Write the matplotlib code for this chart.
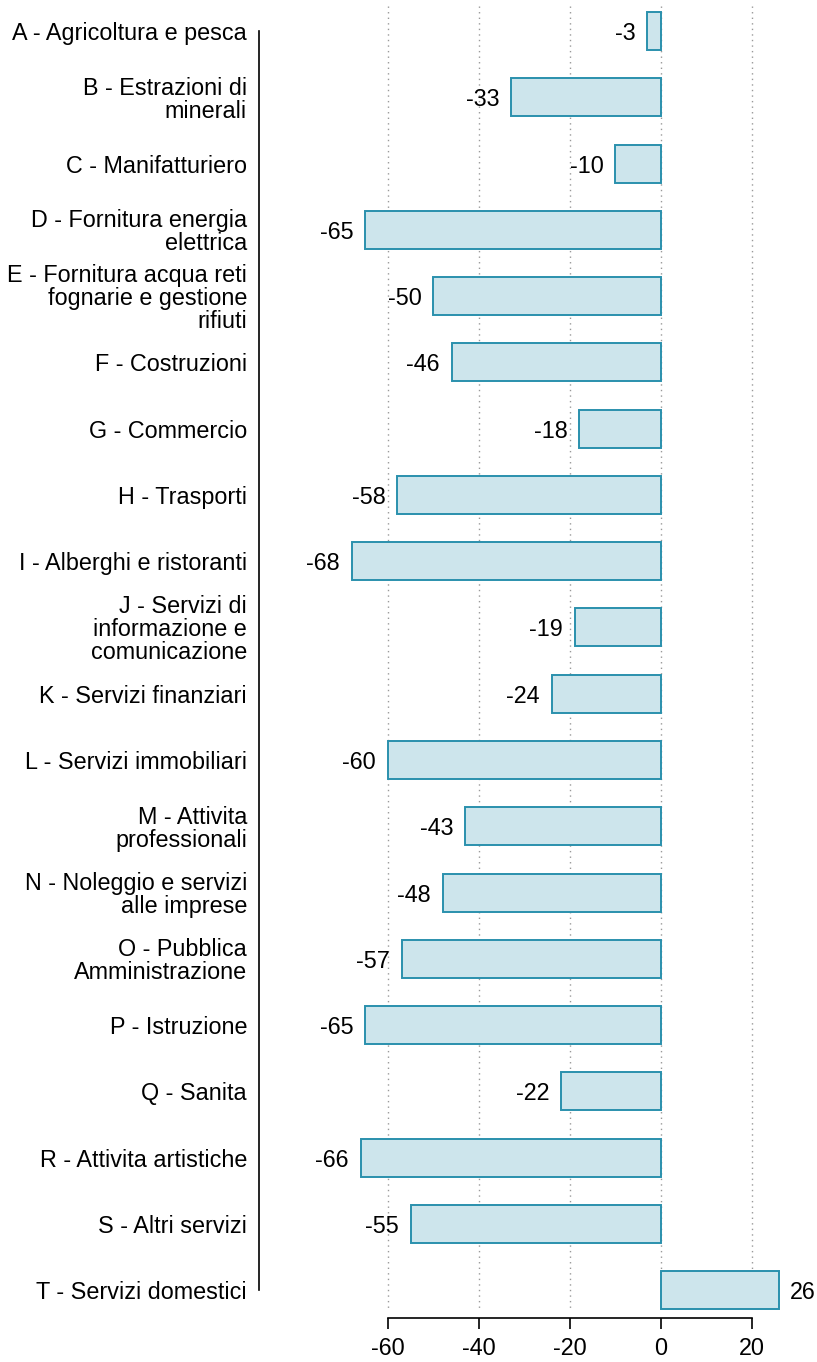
import matplotlib.pyplot as plt

plt.rcParams['font.family'] = ['Liberation Sans', 'DejaVu Sans']

settori = ["A - Agricoltura e pesca",
           "B - Estrazioni di\nminerali",
           "C - Manifatturiero",
           "D - Fornitura energia\nelettrica",
           "E - Fornitura acqua reti\nfognarie e gestione\nrifiuti",
           "F - Costruzioni",
           "G - Commercio",
           "H - Trasporti",
           "I - Alberghi e ristoranti",
           "J - Servizi di\ninformazione e\ncomunicazione",
           "K - Servizi finanziari",
           "L - Servizi immobiliari",
           "M - Attivita\nprofessionali",
           "N - Noleggio e servizi\nalle imprese",
           "O - Pubblica\nAmministrazione",
           "P - Istruzione",
           "Q - Sanita",
           "R - Attivita artistiche",
           "S - Altri servizi",
           "T - Servizi domestici"]
valori = [-3, -33, -10, -65, -50, -46, -18, -58, -68, -19,
          -24, -60, -43, -48, -57, -65, -22, -66, -55, 26]
xticks = [-60, -40, -20, 0, 20]

fs = 16.8
W, H = 817, 1362
fig = plt.figure(figsize=(W / 100, H / 100), dpi=100)
# axes from the y-axis line (x=259px) to the right edge, x axis line at y=1318px
ax = fig.add_axes([259 / W, (H - 1318) / H, (W - 259) / W, 1318 / H])

pos = list(range(len(settori)))
ax.set_xlim(-88.35, 34.29)
ax.set_ylim(19.42, -0.468)

ax.vlines(xticks, -0.38, 19.3, colors='#999999', linestyles=(0, (1, 3)), linewidth=1, zorder=0)

ax.barh(pos, valori, height=0.573, color='#cde5ec', edgecolor='#2a90ad', linewidth=1.4, zorder=2)

for y, v in zip(pos, valori):
    if v < 0:
        ax.text(v - 2.6, y, str(v), ha='right', va='center_baseline', fontsize=fs)
    else:
        ax.text(v + 2.4, y, str(v), ha='left', va='center_baseline', fontsize=fs)

ax.set_yticks(pos)
ax.set_yticklabels(settori, fontsize=fs, linespacing=1.0)
ax.tick_params(axis='y', length=0, pad=8.6)
ax.set_xticks(xticks)
ax.set_xticklabels([str(t) for t in xticks], fontsize=fs)
ax.tick_params(axis='x', length=8, width=1.2, pad=6)

for s in ['top', 'right']:
    ax.spines[s].set_visible(False)
ax.spines['left'].set_bounds(0, 19)
ax.spines['bottom'].set_bounds(-60, 20)
ax.spines['left'].set_linewidth(1.2)
ax.spines['bottom'].set_linewidth(1.2)

fig.savefig('out.png', dpi=100)
